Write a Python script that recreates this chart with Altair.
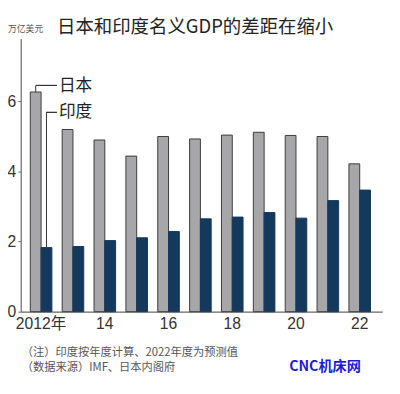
import altair as alt
import pandas as pd

years = [2012, 2013, 2014, 2015, 2016, 2017, 2018, 2019, 2020, 2021, 2022]
japan = [6.27, 5.20, 4.90, 4.44, 5.00, 4.93, 5.04, 5.12, 5.03, 5.00, 4.22]
india = [1.83, 1.86, 2.03, 2.11, 2.29, 2.65, 2.70, 2.83, 2.67, 3.17, 3.47]
tick_labels = ["2012年", "", "14", "", "16", "", "18", "", "20", "", "22"]
series = ["日本", "印度"]
colors = ["#a7a7a9", "#15385d"]

rows = []
for y, j, i in zip(years, japan, india):
    rows.append({"year": y, "country": "日本", "value": j})
    rows.append({"year": y, "country": "印度", "value": i})
df = pd.DataFrame(rows)

label_expr = ""
for y, lab in zip(years, tick_labels):
    label_expr += f"datum.value == {y} ? '{lab}' : "
label_expr += "''"

NUM_FONT = "'Liberation Sans Narrow', 'Liberation Sans', 'Noto Sans CJK SC', sans-serif"
CJK = "Noto Sans CJK SC"

x_enc = alt.X("year:O", title=None,
              scale=alt.Scale(paddingInner=0.323, paddingOuter=0.334, align=0.45),
              axis=alt.Axis(labelExpr=label_expr, labelAngle=0, ticks=False,
                            labelFont=NUM_FONT, labelFontSize=16, labelColor="#333",
                            labelPadding=4, domainColor="#666", domainWidth=1.2))
y_enc = alt.Y("value:Q", title=None,
              scale=alt.Scale(domain=[0, 7.8], nice=False),
              axis=alt.Axis(values=[0, 2, 4, 6], grid=False, tickSize=3, tickColor="#666",
                            labelFont=NUM_FONT, labelFontSize=16, labelColor="#333",
                            labelPadding=2, domainColor="#666", domainWidth=1.2))
xoff = alt.XOffset("country:N", sort=series, scale=alt.Scale(paddingInner=0, paddingOuter=0))

bars = alt.Chart(df).mark_bar(strokeWidth=1).encode(
    x=x_enc, y=y_enc, xOffset=xoff,
    color=alt.Color("country:N", sort=series, scale=alt.Scale(domain=series, range=colors), legend=None),
    stroke=alt.Stroke("country:N", sort=series, scale=alt.Scale(domain=series, range=["#3a3a3a", "#15385d"]), legend=None),
)

first = df[df.year == years[0]]
lead_v_j = alt.Chart(first[first.country == "日本"]).mark_rule(color="#333", strokeWidth=1).encode(
    x=alt.X("year:O"), xOffset=xoff, y=alt.Y("value:Q"), y2=alt.value(48))
lead_v_i = alt.Chart(first[first.country == "印度"]).mark_rule(color="#333", strokeWidth=1).encode(
    x=alt.X("year:O"), xOffset=xoff, y=alt.Y("value:Q"), y2=alt.value(75.5))
lead_h_j = alt.Chart(first).mark_rule(color="#333", strokeWidth=1).encode(
    x=alt.value(15.5), x2=alt.value(37), y=alt.value(48))
lead_h_i = alt.Chart(first).mark_rule(color="#333", strokeWidth=1).encode(
    x=alt.value(26), x2=alt.value(37), y=alt.value(75.5))

def txt(s, x, y, size, color="#222", font=CJK, weight="normal", baseline="middle"):
    return alt.Chart(pd.DataFrame({"t": [s]})).mark_text(
        align="left", baseline=baseline, fontSize=size, color=color, font=font, fontWeight=weight
    ).encode(text="t:N", x=alt.value(x), y=alt.value(y))

texts = [
    txt("日本", 39, 49, 17),
    txt("印度", 39, 75.5, 17),
    txt("日本和印度名义GDP的差距在缩小", 37, -11, 18.8),
    txt("万亿美元", -13, -10, 9, color="#555"),
    txt("（注）印度按年度计算、2022年度为预测值", 1, 321.5, 11.5, color="#555"),
    txt("（数据来源）IMF、日本内阁府", 1, 337, 11.5, color="#555"),
    txt("CNC机床网", 274, 336, 14.5, color="#1c1cd6", weight="bold"),
]

chart = alt.layer(bars, lead_v_j, lead_v_i, lead_h_j, lead_h_i, *texts).properties(
    width=369, height=279,
    autosize=alt.AutoSizeParams(type="none"),
    padding={"left": 13, "top": 27, "right": 10, "bottom": 80},
    background="white",
).configure_view(stroke=None)

chart.save("out.html", embed_options={"renderer": "svg", "actions": False})
